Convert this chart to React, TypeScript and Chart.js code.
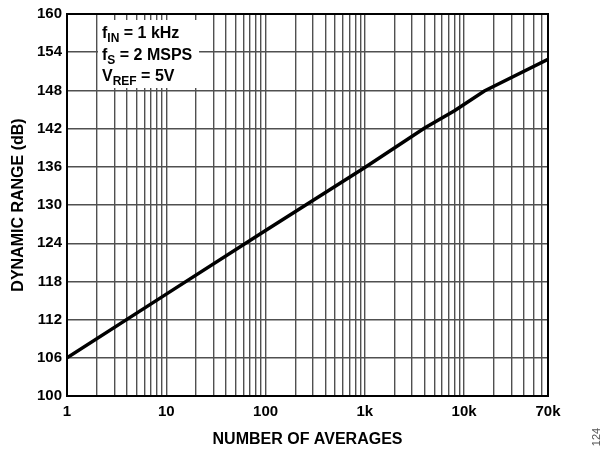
import { useEffect, useRef } from "react";
import { Chart, registerables } from "chart.js";

Chart.register(...registerables);

// Data
const averages = [1, 10, 100, 1000, 4000, 8000, 16000, 70000];
const dynamicRange = [106, 116, 126, 135.9, 142.1, 144.8, 147.9, 152.9];

// Axis ticks
const yTickValues = [100, 106, 112, 118, 124, 130, 136, 142, 148, 154, 160];
const xGridValues = [
  1, 2, 3, 4, 5, 6, 7, 8, 9,
  10, 20, 30, 40, 50, 60, 70, 80, 90,
  100, 200, 300, 400, 500, 600, 700, 800, 900,
  1000, 2000, 3000, 4000, 5000, 6000, 7000, 8000, 9000,
  10000, 20000, 30000, 40000, 50000, 60000, 70000,
];
const xLabelValues = [1, 10, 100, 1000, 10000, 70000];
const xLabelTexts = ["1", "10", "100", "1k", "10k", "70k"];

const FONT = "Arial, 'Liberation Sans', sans-serif";

const annotationPlugin = {
  id: "annotationBox",
  beforeDatasetsDraw(chart: any) {
    const { ctx, chartArea } = chart;
    const { left, top, right, bottom } = chartArea;
    ctx.save();
    // white box behind the conditions text
    ctx.fillStyle = "#fff";
    ctx.fillRect(left + 31, top + 6, 101, 68);
    ctx.fillStyle = "#000";
    const drawSub = (x: number, y: number, main: string, sub: string, rest: string) => {
      ctx.font = `bold 16px ${FONT}`;
      ctx.textBaseline = "alphabetic";
      ctx.textAlign = "left";
      ctx.fillText(main, x, y);
      let cx = x + ctx.measureText(main).width;
      ctx.font = `bold 12px ${FONT}`;
      ctx.fillText(sub, cx, y + 4);
      cx += ctx.measureText(sub).width;
      ctx.font = `bold 16px ${FONT}`;
      ctx.fillText(rest, cx, y);
    };
    drawSub(left + 35, top + 24, "f", "IN", " = 1 kHz");
    drawSub(left + 35, top + 46, "f", "S", " = 2 MSPS");
    drawSub(left + 35, top + 67, "V", "REF", " = 5V");
    // plot frame
    ctx.strokeStyle = "#000";
    ctx.lineWidth = 2;
    ctx.strokeRect(left, top, right - left, bottom - top);
    ctx.restore();
  },
  afterDraw(chart: any) {
    const { ctx } = chart;
    ctx.save();
    ctx.translate(597, 437);
    ctx.rotate(-Math.PI / 2);
    ctx.font = `11px ${FONT}`;
    ctx.fillStyle = "#555";
    ctx.textAlign = "center";
    ctx.textBaseline = "middle";
    ctx.fillText("124", 0, 0);
    ctx.restore();
  },
};

export default function App() {
  const canvasRef = useRef<HTMLCanvasElement>(null);

  useEffect(() => {
    if (!canvasRef.current) return;
    const chart = new Chart(canvasRef.current, {
      type: "line",
      data: {
        datasets: [
          {
            data: averages.map((x, i) => ({ x, y: dynamicRange[i] })),
            borderColor: "#000",
            borderWidth: 3.5,
            pointRadius: 0,
            tension: 0,
            fill: false,
          },
        ],
      },
      options: {
        animation: false,
        responsive: false,
        devicePixelRatio: 1,
        layout: { padding: { left: 0, right: 57, top: 11, bottom: 0 } },
        plugins: {
          legend: { display: false },
          tooltip: { enabled: false },
        },
        scales: {
          x: {
            type: "logarithmic",
            min: 1,
            max: 70000,
            afterBuildTicks: (scale: any) => {
              scale.ticks = xGridValues.map((v) => ({ value: v }));
            },
            afterFit: (scale: any) => {
              scale.height = 54;
            },
            ticks: {
              autoSkip: false,
              maxRotation: 0,
              minRotation: 0,
              padding: 7,
              color: "#000",
              font: { family: FONT, size: 15, weight: "bold" },
              callback: (value: any) => {
                const idx = xLabelValues.indexOf(Number(value));
                return idx >= 0 ? xLabelTexts[idx] : "";
              },
            },
            grid: { color: "#505050", lineWidth: 1.4, drawTicks: false },
            border: { display: false },
            title: {
              display: true,
              text: "NUMBER OF AVERAGES",
              color: "#000",
              font: { family: FONT, size: 16, weight: "bold" },
              padding: { top: 0, bottom: 1 },
            },
          },
          y: {
            type: "linear",
            min: 100,
            max: 160,
            afterBuildTicks: (scale: any) => {
              scale.ticks = yTickValues.map((v) => ({ value: v }));
            },
            afterFit: (scale: any) => {
              scale.width = 67;
            },
            ticks: {
              padding: 5,
              color: "#000",
              font: { family: FONT, size: 15, weight: "bold" },
            },
            grid: { color: "#505050", lineWidth: 1.4, drawTicks: false },
            border: { display: false },
            title: {
              display: true,
              text: "DYNAMIC RANGE (dB)",
              color: "#000",
              font: { family: FONT, size: 16, weight: "bold" },
              padding: { top: 9, bottom: 0 },
            },
          },
        },
      },
      plugins: [annotationPlugin],
    } as any);
    return () => chart.destroy();
  }, []);

  return (
    <div style={{ position: "absolute", left: 0, top: 0, width: 605, height: 450, background: "#fff" }}>
      <canvas ref={canvasRef} width={605} height={450} />
    </div>
  );
}
